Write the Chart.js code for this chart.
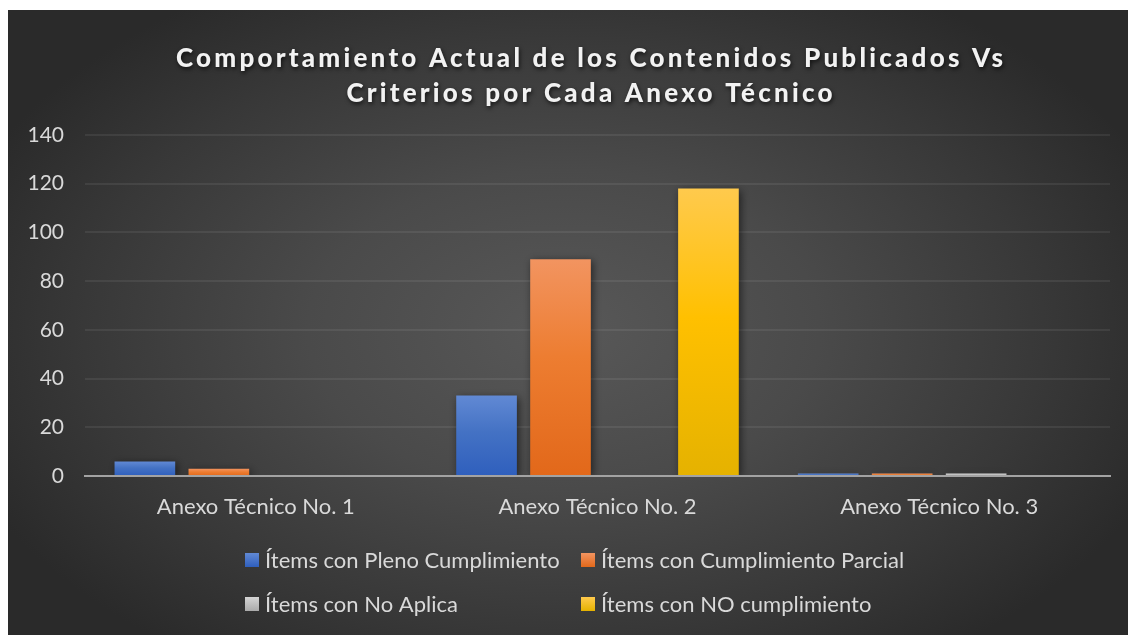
<!DOCTYPE html>
<html>
<head>
<meta charset="utf-8">
<script src="https://cdn.jsdelivr.net/npm/chart.js@4.4.1/dist/chart.umd.min.js"></script>
<style>
  html, body { margin: 0; padding: 0; background: #fff; overflow: hidden; }
  #wrap { position: absolute; left: 8px; top: 10px; width: 1120px; height: 625px; }
</style>
</head>
<body>
<div id="wrap"><canvas id="chart"></canvas></div>
<script>
// data
const categories = ["Anexo Técnico No. 1", "Anexo Técnico No. 2", "Anexo Técnico No. 3"];
const seriesNames = [
  "Ítems con Pleno Cumplimiento",
  "Ítems con Cumplimiento Parcial",
  "Ítems con No Aplica",
  "Ítems con NO cumplimiento"
];
const plenoValues = [6, 33, 1];
const parcialValues = [3, 89, 1];
const noAplicaValues = [0, 0, 1];
const noCumpleValues = [0, 118, 0];
const yTicks = [0, 20, 40, 60, 80, 100, 120, 140];
const titleLines = [
  "Comportamiento Actual de los Contenidos Publicados Vs",
  "Criterios por Cada Anexo Técnico"
];

// [top tint, base, bottom shade]
const seriesColors = [
  ["#6189d4", "#4472c4", "#2f5fbd"],
  ["#f29460", "#ed7d31", "#e2681a"],
  ["#d4d4d4", "#bfbfbf", "#aaaaaa"],
  ["#ffca4d", "#ffc000", "#e5b200"]
];

const FONT = "Lato, 'Open Sans', sans-serif";
const TEXT_COLOR = "#d9d9d9";

function barGradient(colors) {
  return (ctx) => {
    const chart = ctx.chart;
    if (!chart.chartArea || ctx.type !== "data") return colors[1];
    const y = chart.scales.y;
    const top = y.getPixelForValue(ctx.raw);
    const bottom = y.getPixelForValue(0);
    if (bottom - top < 1) return colors[1];
    const g = chart.ctx.createLinearGradient(0, top, 0, bottom);
    g.addColorStop(0, colors[0]);
    g.addColorStop(0.45, colors[1]);
    g.addColorStop(1, colors[2]);
    return g;
  };
}

const backgroundPlugin = {
  id: "bg",
  beforeDraw(chart) {
    const { ctx, width, height } = chart;
    const cx = 556, cy = 320, rx = 640, ry = 400;
    ctx.save();
    ctx.translate(cx, cy);
    ctx.scale(1, ry / rx);
    const g = ctx.createRadialGradient(0, 0, 0, 0, 0, rx);
    g.addColorStop(0, "#585858");
    g.addColorStop(0.4, "#4a4a4a");
    g.addColorStop(0.75, "#383838");
    g.addColorStop(1, "#2a2a2a");
    ctx.fillStyle = g;
    ctx.fillRect(-cx, -cy * rx / ry, width, height * rx / ry);
    ctx.restore();
  }
};

const shadowPlugin = {
  id: "barShadow",
  beforeDatasetsDraw(chart) {
    const ctx = chart.ctx;
    ctx.save();
    ctx.shadowColor = "rgba(0,0,0,0.55)";
    ctx.shadowBlur = 8;
    ctx.shadowOffsetX = 2;
    ctx.shadowOffsetY = 2;
  },
  afterDatasetsDraw(chart) {
    chart.ctx.restore();
  }
};

// title with letter spacing + shadow
const titlePlugin = {
  id: "spacedTitle",
  afterDraw(chart) {
    const ctx = chart.ctx;
    const centerX = 581.5;
    const baselines = [57, 92];
    ctx.save();
    ctx.font = "900 26px " + FONT;
    ctx.fillStyle = "#f2f2f2";
    ctx.textBaseline = "alphabetic";
    ctx.textAlign = "left";
    ctx.shadowColor = "rgba(0,0,0,0.7)";
    ctx.shadowBlur = 4;
    ctx.shadowOffsetX = 1;
    ctx.shadowOffsetY = 2;
    // line 1 spans 827px in the reference; space letters to match
    const natural = ctx.measureText(titleLines[0]).width;
    const spacing = Math.max(0, (827 - natural) / (titleLines[0].length - 1));
    ctx.letterSpacing = spacing.toFixed(2) + "px";
    titleLines.forEach((line, i) => {
      const w = ctx.measureText(line).width - spacing;
      ctx.fillText(line, centerX - w / 2, baselines[i]);
    });
    ctx.restore();
  }
};

// legend in two aligned columns, like the reference
const legendPlugin = {
  id: "gridLegend",
  afterDraw(chart) {
    const ctx = chart.ctx;
    const colX = [237, 573];
    const rowY = [550, 594];
    ctx.save();
    ctx.font = "22px " + FONT;
    ctx.textBaseline = "middle";
    ctx.textAlign = "left";
    chart.data.datasets.forEach((ds, i) => {
      const x = colX[i % 2];
      const y = rowY[Math.floor(i / 2)];
      const c = seriesColors[i];
      const g = ctx.createLinearGradient(0, y - 7, 0, y + 7);
      g.addColorStop(0, c[0]);
      g.addColorStop(1, c[2]);
      ctx.fillStyle = g;
      ctx.fillRect(x, y - 7, 14, 14);
      ctx.fillStyle = TEXT_COLOR;
      ctx.fillText(ds.label, x + 20, y + 1);
    });
    ctx.restore();
  }
};

const seriesValues = [plenoValues, parcialValues, noAplicaValues, noCumpleValues];

const chart = new Chart(document.getElementById("chart"), {
  type: "bar",
  data: {
    labels: categories,
    datasets: seriesNames.map((name, i) => ({
      label: name,
      data: seriesValues[i],
      backgroundColor: barGradient(seriesColors[i]),
      borderWidth: 0,
      categoryPercentage: 0.866,
      barPercentage: 0.82
    }))
  },
  options: {
    responsive: true,
    maintainAspectRatio: false,
    animation: false,
    layout: { padding: { top: 125, right: 18, bottom: 109, left: 0 } },
    plugins: {
      legend: { display: false },
      title: { display: false },
      tooltip: { enabled: false }
    },
    scales: {
      x: {
        afterFit(scale) { scale.height = 50; },
        grid: { display: false, drawTicks: false },
        border: { display: true, color: "#a3a3a3", width: 2, z: 1 },
        ticks: { color: TEXT_COLOR, font: { family: FONT, size: 22 }, padding: 18 }
      },
      y: {
        min: 0,
        max: 140,
        afterFit(scale) { scale.width = 77; },
        afterBuildTicks(scale) { scale.ticks = yTicks.map(v => ({ value: v })); },
        grid: { color: "rgba(255,255,255,0.07)", lineWidth: 2, drawTicks: false },
        border: { display: false },
        ticks: { color: TEXT_COLOR, font: { family: FONT, size: 21 }, padding: 21 }
      }
    }
  },
  plugins: [backgroundPlugin, shadowPlugin, titlePlugin, legendPlugin]
});
</script>
</body>
</html>
